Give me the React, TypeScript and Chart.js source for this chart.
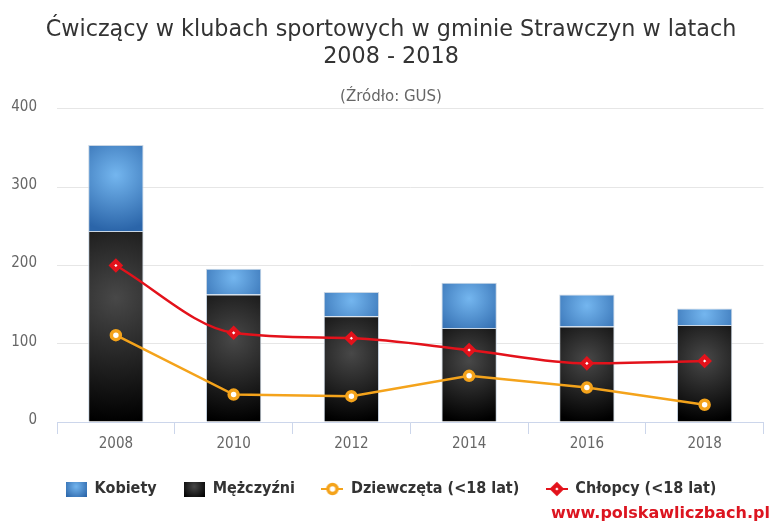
import React, { useEffect, useRef } from 'react';
import { Chart, registerables } from 'chart.js';

Chart.register(...registerables);

// ---- data ----
const years = ['2008', '2010', '2012', '2014', '2016', '2018'];
const kobiety = [110, 33, 31, 58, 41, 21];
const mezczyzni = [244, 163, 135, 120, 122, 124];
const dziewczeta = [111, 35, 33, 59, 44, 22];
const chlopcy = [200, 114, 107, 92, 75, 78];
const yTicks = [0, 100, 200, 300, 400];
const titleLines = ['Ćwiczący w klubach sportowych w gminie Strawczyn w latach', '2008 - 2018'];
const subtitleText = '(Źródło: GUS)';
const seriesNames = ['Kobiety', 'Mężczyźni', 'Dziewczęta (<18 lat)', 'Chłopcy (<18 lat)'];
const watermark = 'www.polskawliczbach.pl';

// ---- styles ----
const BLUE_IN = '#74b6ef';
const BLUE_OUT = '#2b65a9';
const BLACK_IN = '#484848';
const BLACK_OUT = '#000000';
const ORANGE = '#f4a31b';
const RED = '#e3121b';
const BAR_BORDER = '#c9d6e4';
const FONT = 'DejaVu Sans';
const FONT_C = 'DejaVu Sans Condensed';
const BAR_PCT = 0.47;

function radial(c2d: CanvasRenderingContext2D, cx: number, top: number, bottom: number, w: number, inner: string, outer: string) {
  const h = Math.max(1, bottom - top);
  const cy = top + h * 0.35;
  const r = Math.max(w * 0.8, h * 0.65);
  const g = c2d.createRadialGradient(cx, cy, 0, cx, cy, r);
  g.addColorStop(0, inner);
  g.addColorStop(1, outer);
  return g;
}

function barFill(inner: string, outer: string, baseArr: number[] | null, valArr: number[]) {
  return (ctx: any) => {
    if (ctx.type !== 'data') return outer;
    const chart = ctx.chart;
    const xs = chart.scales.x;
    const ys = chart.scales.y;
    if (!xs || !ys || !chart.ctx) return outer;
    const i = ctx.dataIndex;
    const base = baseArr ? baseArr[i] : 0;
    const cx = xs.getPixelForValue(i);
    const step = years.length > 1 ? xs.getPixelForValue(1) - xs.getPixelForValue(0) : xs.width;
    const w = step * BAR_PCT;
    const bottom = ys.getPixelForValue(base);
    const top = ys.getPixelForValue(base + valArr[i]);
    return radial(chart.ctx, cx, top, bottom, w, inner, outer);
  };
}

function rectIcon(inner: string, outer: string) {
  const c = document.createElement('canvas');
  c.width = 21;
  c.height = 15;
  const g = c.getContext('2d')!;
  const grad = g.createRadialGradient(10.5, 5, 0, 10.5, 5, 14);
  grad.addColorStop(0, inner);
  grad.addColorStop(1, outer);
  g.fillStyle = grad;
  g.fillRect(0, 0, 21, 15);
  return c;
}

function lineIcon(color: string, kind: 'circle' | 'diamond') {
  const c = document.createElement('canvas');
  c.width = 22;
  c.height = 16;
  const g = c.getContext('2d')!;
  g.strokeStyle = color;
  g.lineWidth = 2;
  g.beginPath();
  g.moveTo(0, 8);
  g.lineTo(22, 8);
  g.stroke();
  if (kind === 'circle') {
    g.beginPath();
    g.arc(11, 8, 4.5, 0, Math.PI * 2);
    g.fillStyle = '#fff';
    g.fill();
    g.lineWidth = 3.5;
    g.stroke();
  } else {
    g.beginPath();
    g.moveTo(11 - 4.5, 8);
    g.lineTo(11, 8 - 4.5);
    g.lineTo(11 + 4.5, 8);
    g.lineTo(11, 8 + 4.5);
    g.closePath();
    g.fillStyle = '#fff';
    g.fill();
    g.lineWidth = 4;
    g.lineJoin = 'miter';
    g.stroke();
  }
  return c;
}

export default function App() {
  const ref = useRef<HTMLCanvasElement | null>(null);

  useEffect(() => {
    if (!ref.current) return;
    const icons = [
      rectIcon(BLUE_IN, BLUE_OUT),
      rectIcon(BLACK_IN, BLACK_OUT),
      lineIcon(ORANGE, 'circle'),
      lineIcon(RED, 'diamond'),
    ];
    // dataset index for each legend entry (legend order differs from stacking order)
    const legendToDataset = [1, 0, 2, 3];

    const chart = new Chart(ref.current, {
      type: 'bar',
      data: {
        labels: years,
        datasets: [
          {
            type: 'bar',
            label: seriesNames[1],
            data: mezczyzni,
            stack: 'people',
            backgroundColor: barFill(BLACK_IN, BLACK_OUT, null, mezczyzni),
            borderColor: BAR_BORDER,
            borderWidth: 1,
            barPercentage: BAR_PCT,
            categoryPercentage: 1,
            order: 2,
          },
          {
            type: 'bar',
            label: seriesNames[0],
            data: kobiety,
            stack: 'people',
            backgroundColor: barFill(BLUE_IN, BLUE_OUT, mezczyzni, kobiety),
            borderColor: BAR_BORDER,
            borderWidth: 1,
            barPercentage: BAR_PCT,
            categoryPercentage: 1,
            order: 2,
          },
          {
            type: 'line',
            label: seriesNames[2],
            data: dziewczeta,
            stack: 'girls',
            borderColor: ORANGE,
            borderWidth: 2.5,
            tension: 0,
            pointStyle: 'circle',
            pointRadius: 4.5,
            pointBorderWidth: 3.5,
            pointBorderColor: ORANGE,
            pointBackgroundColor: '#ffffff',
            fill: false,
            order: 0,
          },
          {
            type: 'line',
            label: seriesNames[3],
            data: chlopcy,
            stack: 'boys',
            borderColor: RED,
            borderWidth: 2.5,
            cubicInterpolationMode: 'monotone',
            pointStyle: 'rectRot',
            pointRadius: 4.5,
            pointBorderWidth: 4,
            pointBorderColor: RED,
            pointBackgroundColor: '#ffffff',
            fill: false,
            order: 0,
          },
        ] as any,
      },
      options: {
        responsive: false,
        animation: false,
        events: [],
        layout: { padding: { left: 10, right: 0, top: 0, bottom: 17 } },
        scales: {
          x: {
            stacked: true,
            grid: {
              display: true,
              drawOnChartArea: false,
              offset: true,
              tickLength: 12,
              color: '#ccd6eb',
              tickColor: '#ccd6eb',
            },
            border: { display: true, color: '#ccd6eb', width: 1 },
            ticks: { color: '#666666', font: { family: FONT_C, size: 15 }, padding: 1 },
            afterFit: (s: any) => {
              s.height = 32;
            },
          },
          y: {
            stacked: true,
            min: 0,
            max: 400,
            afterBuildTicks: (s: any) => {
              s.ticks = yTicks.map((v) => ({ value: v }));
            },
            afterFit: (s: any) => {
              s.width = 47;
            },
            grid: { color: '#e6e6e6', drawTicks: false },
            border: { display: false },
            ticks: {
              padding: 20,
              color: '#666666',
              labelOffset: -2,
              font: { family: FONT_C, size: 15 },
            },
          },
        },
        plugins: {
          title: {
            display: true,
            text: titleLines,
            color: '#333333',
            font: { family: FONT, size: 22.3, weight: 'normal', lineHeight: 1.233 },
            padding: { top: 16, bottom: 17 },
          },
          subtitle: {
            display: true,
            text: subtitleText,
            color: '#666666',
            font: { family: FONT, size: 15, weight: 'normal', lineHeight: 1.2 },
            padding: { top: 0, bottom: 3 },
          },
          legend: {
            position: 'bottom',
            labels: {
              usePointStyle: true,
              pointStyleWidth: 21,
              boxHeight: 15,
              padding: 27,
              color: '#333333',
              font: { family: FONT_C, size: 16, weight: 'bold' },
              generateLabels: () =>
                legendToDataset.map((di, k) => ({
                  text: seriesNames[k],
                  datasetIndex: di,
                  pointStyle: icons[k],
                  fillStyle: 'transparent',
                  strokeStyle: 'transparent',
                  lineWidth: 0,
                  hidden: false,
                  fontColor: '#333333',
                })) as any,
            },
          },
          tooltip: { enabled: false },
        },
      } as any,
    });
    return () => chart.destroy();
  }, []);

  return (
    <div
      style={{
        position: 'fixed',
        left: 0,
        top: 0,
        width: 772,
        height: 524,
        overflow: 'hidden',
        background: '#ffffff',
      }}
    >
      <canvas ref={ref} width={772} height={524} style={{ display: 'block' }} />
      <div
        style={{
          position: 'absolute',
          right: 2,
          top: 504,
          fontFamily: FONT,
          fontWeight: 'bold',
          fontSize: 16,
          lineHeight: '18px',
          color: '#dc1520',
          whiteSpace: 'nowrap',
        }}
      >
        {watermark}
      </div>
    </div>
  );
}
